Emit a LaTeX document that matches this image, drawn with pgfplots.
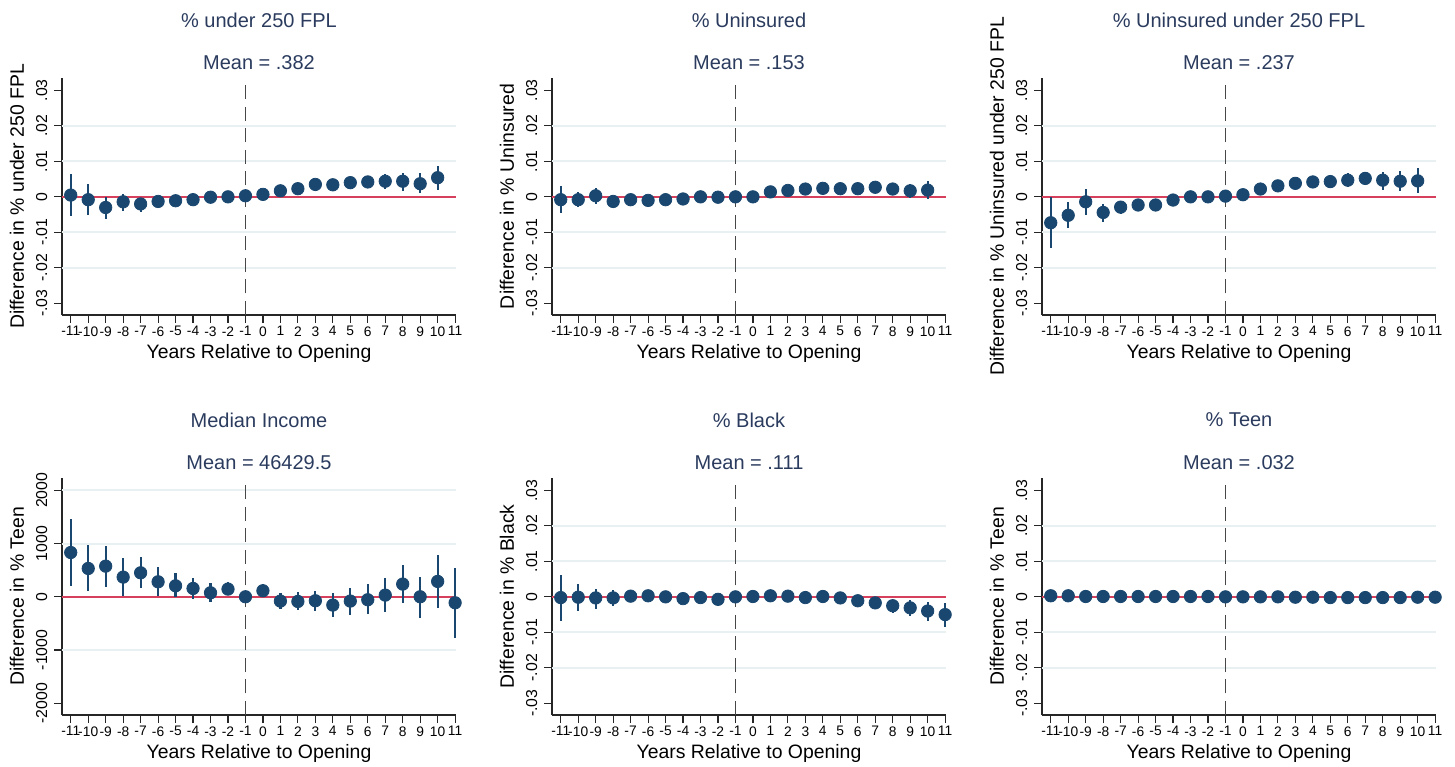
\documentclass[border=0pt]{standalone}
\usepackage{pgfplots}
\pgfplotsset{compat=1.18}
\usepackage{pgfplotstable}
\usepackage{fontspec}
\setmainfont{Liberation Sans}
\definecolor{snavy}{HTML}{1A476F}
\definecolor{ttl}{HTML}{2A3B5E}
\definecolor{sred}{HTML}{D6405C}
\definecolor{sgrid}{HTML}{E8F0F2}

\pgfplotstableread{
x y lo hi
-11 0.0005 -0.0054 0.0064
-10 -0.0008 -0.0052 0.0037
-9 -0.0030 -0.0063 0.0000
-8 -0.0014 -0.0039 0.0009
-7 -0.0020 -0.0042 -0.0005
-6 -0.0013 -0.0026 -0.0002
-5 -0.0011 -0.0022 -0.0002
-4 -0.0008 -0.0019 0.0000
-3 -0.0001 -0.0009 0.0008
-2 0.0000 -0.0008 0.0008
-1 0.0003 -0.0002 0.0008
0 0.0007 0.0002 0.0012
1 0.0017 0.0009 0.0025
2 0.0023 0.0011 0.0035
3 0.0035 0.0023 0.0047
4 0.0034 0.0021 0.0047
5 0.0040 0.0023 0.0054
6 0.0042 0.0025 0.0058
7 0.0044 0.0021 0.0064
8 0.0044 0.0017 0.0067
9 0.0037 0.0011 0.0066
10 0.0054 0.0019 0.0087
}\dataA

\pgfplotstableread{
x y lo hi
-11 -0.0008 -0.0045 0.0030
-10 -0.0008 -0.0030 0.0014
-9 0.0003 -0.0019 0.0026
-8 -0.0013 -0.0025 -0.0002
-7 -0.0008 -0.0019 0.0005
-6 -0.0010 -0.0020 0.0000
-5 -0.0008 -0.0018 0.0002
-4 -0.0006 -0.0015 0.0003
-3 0.0000 -0.0008 0.0008
-2 -0.0001 -0.0009 0.0007
-1 0.0000 -0.0004 0.0004
0 0.0000 -0.0005 0.0005
1 0.0014 0.0005 0.0023
2 0.0018 0.0005 0.0028
3 0.0022 0.0011 0.0035
4 0.0024 0.0011 0.0037
5 0.0023 0.0009 0.0037
6 0.0023 0.0009 0.0037
7 0.0027 0.0011 0.0042
8 0.0022 0.0005 0.0039
9 0.0017 -0.0002 0.0037
10 0.0019 -0.0006 0.0044
}\dataB

\pgfplotstableread{
x y lo hi
-11 -0.0073 -0.0145 0.0000
-10 -0.0052 -0.0089 -0.0014
-9 -0.0014 -0.0050 0.0022
-8 -0.0044 -0.0070 -0.0021
-7 -0.0029 -0.0047 -0.0014
-6 -0.0023 -0.0040 -0.0009
-5 -0.0023 -0.0036 -0.0012
-4 -0.0009 -0.0021 0.0000
-3 0.0000 -0.0009 0.0008
-2 0.0000 -0.0007 0.0007
-1 0.0002 -0.0002 0.0006
0 0.0006 0.0001 0.0011
1 0.0022 0.0009 0.0033
2 0.0031 0.0019 0.0042
3 0.0038 0.0026 0.0052
4 0.0042 0.0028 0.0056
5 0.0043 0.0026 0.0059
6 0.0047 0.0028 0.0066
7 0.0052 0.0033 0.0070
8 0.0047 0.0020 0.0070
9 0.0044 0.0017 0.0072
10 0.0045 0.0012 0.0080
}\dataC

\pgfplotstableread{
x y lo hi
-11 831 206 1469
-10 531 106 969
-9 575 188 956
-8 369 13 731
-7 450 156 750
-6 281 19 550
-5 206 -13 438
-4 156 -44 344
-3 75 -106 250
-2 144 31 269
-1 0 -40 40
0 113 0 231
1 -81 -231 75
2 -88 -250 94
3 -75 -269 113
4 -156 -375 75
5 -81 -344 156
6 -56 -331 231
7 31 -281 344
8 238 -125 594
9 0 -394 375
10 288 -206 781
11 -113 -781 531
}\dataD

\pgfplotstableread{
x y lo hi
-11 -0.0002 -0.0068 0.0063
-10 -0.0001 -0.0040 0.0037
-9 -0.0003 -0.0033 0.0023
-8 -0.0003 -0.0026 0.0019
-7 0.0002 -0.0011 0.0014
-6 0.0003 -0.0006 0.0012
-5 0.0000 -0.0009 0.0009
-4 -0.0005 -0.0013 0.0003
-3 -0.0002 -0.0010 0.0006
-2 -0.0007 -0.0015 0.0001
-1 0.0000 -0.0004 0.0004
0 0.0001 -0.0004 0.0006
1 0.0003 -0.0002 0.0008
2 0.0002 -0.0004 0.0008
3 -0.0002 -0.0009 0.0005
4 0.0001 -0.0006 0.0008
5 -0.0003 -0.0017 0.0011
6 -0.0011 -0.0025 0.0002
7 -0.0017 -0.0035 0.0000
8 -0.0025 -0.0045 -0.0008
9 -0.0031 -0.0054 -0.0009
10 -0.0040 -0.0069 -0.0014
11 -0.0050 -0.0084 -0.0016
}\dataE

\pgfplotstableread{
x y lo hi
-11 0.0003 -0.0001 0.0007
-10 0.0003 -0.0001 0.0007
-9 0.0001 -0.0003 0.0005
-8 0.0001 -0.0003 0.0005
-7 0.0001 -0.0003 0.0005
-6 0.0001 -0.0003 0.0005
-5 0.0001 -0.0003 0.0005
-4 0.0001 -0.0003 0.0005
-3 0.0001 -0.0003 0.0005
-2 0.0001 -0.0003 0.0005
-1 0.0000 -0.0004 0.0004
0 0.0000 -0.0004 0.0004
1 0.0000 -0.0004 0.0004
2 0.0000 -0.0004 0.0004
3 -0.0001 -0.0005 0.0003
4 -0.0001 -0.0005 0.0003
5 -0.0002 -0.0006 0.0002
6 -0.0002 -0.0006 0.0002
7 -0.0002 -0.0006 0.0002
8 -0.0002 -0.0006 0.0002
9 -0.0002 -0.0006 0.0002
10 -0.0001 -0.0005 0.0003
11 -0.0001 -0.0005 0.0003
}\dataF

\pgfplotsset{
  stata/.style={
    scale only axis, width=197pt, height=118.5pt,
    anchor=south west, clip=false,
    xmin=-11.5, xmax=11.05,
    axis x line*=bottom, axis y line*=left,
    axis line style={draw=black!85, line width=0.6pt, -},
    every tick/.style={draw=black!85, line width=0.6pt},
    tick align=outside, major tick length=4pt,
    scaled y ticks=false, scaled x ticks=false,
    xtick={-11,-10,...,11},
    xticklabels={-11,-10,-9,-8,-7,-6,-5,-4,-3,-2,-1,0,1,2,3,4,5,6,7,8,9,10,11},
    xticklabel style={font=\fontsize{6.9}{8}\selectfont, inner sep=1pt, yshift=-0.5pt},
    yticklabel style={font=\fontsize{7.9}{9}\selectfont, rotate=90, anchor=south, inner sep=1pt, yshift=2.2pt},
    xlabel={Years Relative to Opening},
    xlabel style={font=\fontsize{9.7}{11}\selectfont, at={(axis description cs:0.5,0)}, anchor=center, yshift=-19pt},
    ylabel style={font=\fontsize{9.7}{11}\selectfont, at={(axis description cs:-0.1142,0.5)}, anchor=center},
    extra y tick style={grid=major, major grid style={draw=sgrid, line width=1pt}, major tick length=0pt, yticklabels={}},
  },
  pct/.style={
    ymin=-0.0333, ymax=0.0335,
    ytick={-0.03,-0.02,-0.01,0,0.01,0.02,0.03},
    yticklabels={-.03,-.02,-.01,0,.01,.02,.03},
    extra y ticks={-0.02,-0.01,0.01,0.02}, extra y tick labels={},
  },
  pts/.style={only marks, mark=*, mark size=3.1pt, color=snavy,
    mark options={fill=snavy, draw=snavy},
    error bars/.cd, y dir=both, y explicit,
    error mark=none, error bar style={line width=1.1pt, color=snavy}},
}

\newcommand{\decor}[3]{%
  \addplot[draw=sred, line width=1.1pt, forget plot] coordinates {(-11.5,0) (11.05,0)};
  \draw[black!72, line width=0.65pt, dash pattern=on 7pt off 3.8pt] (axis cs:-1,#1) -- (axis cs:-1,#2);
  \node[font=\fontsize{10}{12}\selectfont, text=ttl] at (rel axis cs:0.5,1) [yshift=29pt] {#3};
}
\newcommand{\meanlbl}[1]{%
  \node[font=\fontsize{10}{12}\selectfont, text=ttl] at (rel axis cs:0.5,1) [yshift=7.5pt] {#1};
}

\begin{document}
\begin{tikzpicture}
\useasboundingbox (0,0) rectangle (727.5pt,383pt);

% Row 1
\begin{axis}[stata, pct, at={(31pt,225.5pt)}, ylabel={Difference in \% under 250 FPL}]
\decor{-0.0333}{0.0335}{\% under 250 FPL}
\meanlbl{Mean = .382}
\addplot[pts] table[x=x, y=y, y error plus expr=\thisrow{hi}-\thisrow{y}, y error minus expr=\thisrow{y}-\thisrow{lo}] {\dataA};
\end{axis}

\begin{axis}[stata, pct, at={(276pt,225.5pt)}, ylabel={Difference in \% Uninsured}]
\decor{-0.0333}{0.0335}{\% Uninsured}
\meanlbl{Mean = .153}
\addplot[pts] table[x=x, y=y, y error plus expr=\thisrow{hi}-\thisrow{y}, y error minus expr=\thisrow{y}-\thisrow{lo}] {\dataB};
\end{axis}

\begin{axis}[stata, pct, at={(521pt,225.5pt)}, ylabel={Difference in \% Uninsured under 250 FPL}]
\decor{-0.0333}{0.0335}{\% Uninsured under 250 FPL}
\meanlbl{Mean = .237}
\addplot[pts] table[x=x, y=y, y error plus expr=\thisrow{hi}-\thisrow{y}, y error minus expr=\thisrow{y}-\thisrow{lo}] {\dataC};
\end{axis}

% Row 2
\begin{axis}[stata, at={(31pt,25.5pt)}, ylabel={Difference in \% Teen},
  ymin=-2220, ymax=2230,
  ytick={-2000,-1000,0,1000,2000}, yticklabels={-2000,-1000,0,1000,2000},
  extra y ticks={-1000,1000,2000}, extra y tick labels={}]
\decor{-2220}{2230}{Median Income}
\meanlbl{Mean = 46429.5}
\addplot[pts] table[x=x, y=y, y error plus expr=\thisrow{hi}-\thisrow{y}, y error minus expr=\thisrow{y}-\thisrow{lo}] {\dataD};
\end{axis}

\begin{axis}[stata, pct, at={(276pt,25.5pt)}, ylabel={Difference in \% Black}]
\decor{-0.0333}{0.0335}{\% Black}
\meanlbl{Mean = .111}
\addplot[pts] table[x=x, y=y, y error plus expr=\thisrow{hi}-\thisrow{y}, y error minus expr=\thisrow{y}-\thisrow{lo}] {\dataE};
\end{axis}

\begin{axis}[stata, pct, at={(521pt,25.5pt)}, ylabel={Difference in \% Teen}]
\decor{-0.0333}{0.0335}{\% Teen}
\meanlbl{Mean = .032}
\addplot[pts] table[x=x, y=y, y error plus expr=\thisrow{hi}-\thisrow{y}, y error minus expr=\thisrow{y}-\thisrow{lo}] {\dataF};
\end{axis}
\end{tikzpicture}
\end{document}
